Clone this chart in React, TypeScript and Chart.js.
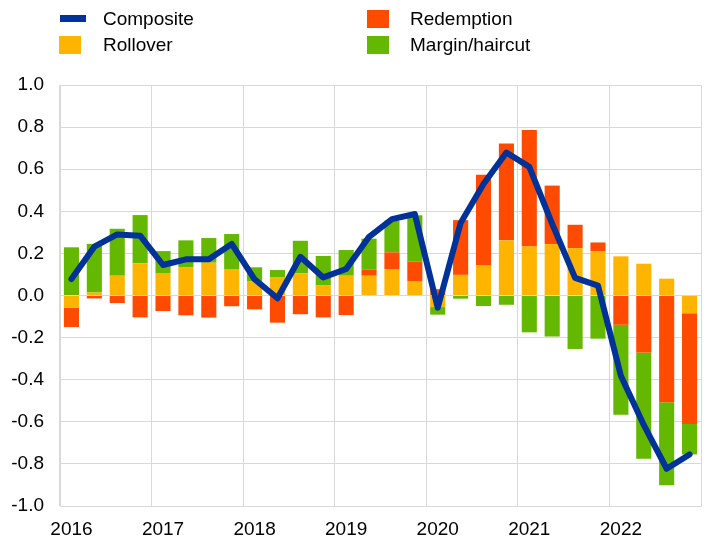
import React, { useEffect, useRef } from "react";
import { Chart, registerables } from "chart.js";

Chart.register(...registerables);

const years = ["2016", "2017", "2018", "2019", "2020", "2021", "2022"];
const quarters = ["Q1", "Q2", "Q3", "Q4"];
const categories: string[] = years.flatMap((y) => quarters.map((q) => `${y} ${q}`));

const rollover = [
  -0.058, 0.014, 0.094, 0.153, 0.107, 0.135, 0.156, 0.126,
  0.066, 0.085, 0.105, 0.047, 0.094, 0.094, 0.126, 0.069,
  -0.055, 0.098, 0.142, 0.262, 0.233, 0.244, 0.225, 0.21,
  0.186, 0.151, 0.08, -0.084,
];
const redemption = [
  -0.092, -0.014, -0.036, -0.104, -0.074, -0.094, -0.105, -0.051,
  -0.066, -0.129, -0.089, -0.104, -0.093, 0.03, 0.079, 0.093,
  0.03, 0.26, 0.432, 0.46, 0.553, 0.278, 0.111, 0.042,
  -0.139, -0.271, -0.507, -0.526,
];
const margin = [
  0.229, 0.231, 0.223, 0.229, 0.104, 0.127, 0.117, 0.166,
  0.068, 0.036, 0.155, 0.141, 0.122, 0.146, 0.15, 0.219,
  -0.036, -0.015, -0.05, -0.044, -0.175, -0.195, -0.254, -0.205,
  -0.428, -0.504, -0.395, -0.145,
];
const composite = [
  0.078, 0.232, 0.29, 0.284, 0.145, 0.172, 0.172, 0.245,
  0.077, -0.013, 0.184, 0.086, 0.126, 0.279, 0.363, 0.387,
  -0.058, 0.344, 0.53, 0.679, 0.611, 0.34, 0.084, 0.047,
  -0.381, -0.615, -0.823, -0.755,
];

const BLUE = "#003299";
const YELLOW = "#FFB400";
const RED = "#FF4B00";
const GREEN = "#65B800";
const GRID = "#d9d9d9";
const FONT = "'Liberation Sans', Arial, sans-serif";
const FS = 19;

export default function App() {
  const ref = useRef<HTMLCanvasElement | null>(null);

  useEffect(() => {
    document.body.style.margin = "0";
    const ctx = ref.current!.getContext("2d")!;
    const chart = new Chart(ctx, {
      type: "bar",
      data: {
        labels: categories,
        datasets: [
          {
            type: "line",
            label: "Composite",
            data: composite,
            borderColor: BLUE,
            backgroundColor: BLUE,
            borderWidth: 6,
            pointRadius: 0,
            borderJoinStyle: "round",
            borderCapStyle: "round",
            tension: 0,
            stack: "line",
            order: 0,
          } as any,
          {
            label: "Rollover",
            data: rollover,
            backgroundColor: YELLOW,
            stack: "bars",
            order: 1,
            barPercentage: 0.66,
            categoryPercentage: 1,
          },
          {
            label: "Redemption",
            data: redemption,
            backgroundColor: RED,
            stack: "bars",
            order: 1,
            barPercentage: 0.66,
            categoryPercentage: 1,
          },
          {
            label: "Margin/haircut",
            data: margin,
            backgroundColor: GREEN,
            stack: "bars",
            order: 1,
            barPercentage: 0.66,
            categoryPercentage: 1,
          },
        ],
      },
      options: {
        animation: false,
        responsive: false,
        maintainAspectRatio: false,
        layout: { padding: { top: 85, right: 10, left: 0, bottom: 0 } },
        plugins: {
          legend: { display: false },
          tooltip: { enabled: false },
        },
        scales: {
          x: {
            stacked: true,
            offset: true,
            grid: {
              offset: true,
              drawTicks: false,
              color: (c: any) =>
                c.index === undefined || c.index % 4 === 0 ? GRID : "rgba(0,0,0,0)",
            },
            border: { color: GRID },
            ticks: {
              autoSkip: false,
              maxRotation: 0,
              minRotation: 0,
              padding: 12,
              color: "#000",
              font: { family: FONT, size: FS },
              callback: (_v: any, i: number) => (i % 4 === 0 ? years[i / 4] : ""),
            },
            afterFit: (s: any) => {
              s.height = 35;
            },
          },
          y: {
            stacked: true,
            min: -1,
            max: 1,
            grid: { color: GRID, drawTicks: false },
            border: { color: GRID },
            ticks: {
              stepSize: 0.2,
              padding: 16,
              color: "#000",
              font: { family: FONT, size: FS },
              callback: (v: any) => Number(v).toFixed(1),
            },
            afterFit: (s: any) => {
              s.width = 60;
            },
          },
        },
      },
    });
    return () => chart.destroy();
  }, []);

  const text: React.CSSProperties = {
    position: "absolute",
    fontFamily: FONT,
    fontSize: FS,
    color: "#000",
    lineHeight: "20px",
    whiteSpace: "nowrap",
  };
  const sq = (left: number, top: number, color: string): React.CSSProperties => ({
    position: "absolute",
    left,
    top,
    width: 22,
    height: 18,
    background: color,
  });

  return (
    <div style={{ position: "fixed", left: 0, top: 0, width: 711, height: 541, background: "#fff" }}>
      <canvas ref={ref} width={711} height={541} style={{ position: "absolute", left: 0, top: 0 }} />
      <div style={{ position: "absolute", left: 60, top: 15, width: 26, height: 7, background: BLUE }} />
      <div style={{ ...text, left: 103, top: 9 }}>Composite</div>
      <div style={sq(59, 36, YELLOW)} />
      <div style={{ ...text, left: 103, top: 35 }}>Rollover</div>
      <div style={sq(367, 10, RED)} />
      <div style={{ ...text, left: 410, top: 9 }}>Redemption</div>
      <div style={sq(367, 36, GREEN)} />
      <div style={{ ...text, left: 410, top: 35 }}>Margin/haircut</div>
    </div>
  );
}
